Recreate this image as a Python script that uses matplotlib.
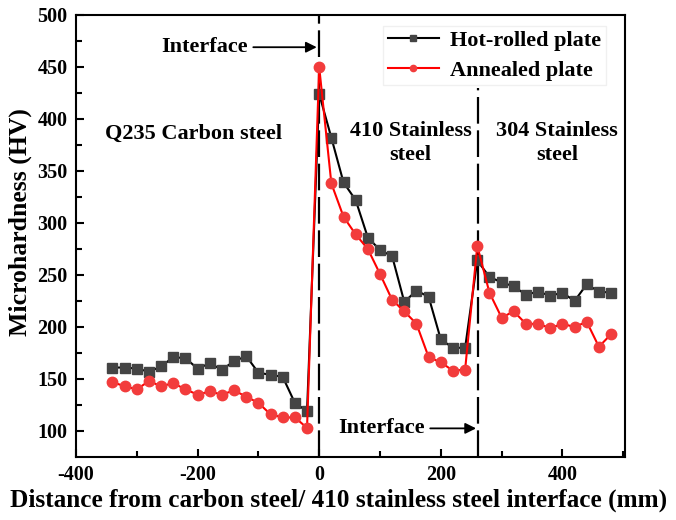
import matplotlib.pyplot as plt
import numpy as np

plt.rcParams['font.family'] = ['Liberation Serif', 'DejaVu Serif']
plt.rcParams['font.weight'] = 'bold'
plt.rcParams['axes.unicode_minus'] = False

# distance from carbon steel / 410 interface (mm)
distance = list(range(-340, 481, 20))

hot_rolled = [161, 161, 160, 157, 162, 171, 170, 160, 165, 159, 167, 172, 156, 154, 152, 127, 119,
              424, 382, 339, 322, 286, 274, 268, 224, 235, 229, 188, 180, 180,
              264, 248, 243, 239, 231, 234, 230, 233, 225, 241, 234, 233]
annealed = [147, 143, 140, 148, 143, 146, 140, 135, 138, 135, 139, 133, 127, 116, 113, 113, 103,
            450, 338, 306, 289, 275, 251, 226, 215, 203, 171, 166, 158, 159,
            278, 233, 209, 215, 203, 203, 199, 203, 200, 205, 181, 193]

interfaces = [0, 262]

fig = plt.figure(figsize=(6.76, 5.2), dpi=100)
ax = fig.add_axes([0.1124, 0.1212, 0.8122, 0.85])

ax.plot(distance, hot_rolled, color='black', lw=1.5, marker='s', ms=6.5,
        mfc='#444444', mec='#444444', label='Hot-rolled plate', zorder=3)
ax.plot(distance, annealed, color='red', lw=1.5, marker='o', ms=7.5,
        mfc='#f23c3c', mec='#f23c3c', label='Annealed plate', zorder=4)

# interface lines
ax.axvline(interfaces[0], color='black', lw=1.6, ls=(0, (12, 3)), zorder=2)
ax.plot([interfaces[1], interfaces[1]], [75, 430], color='black', lw=1.6,
        ls=(0, (12, 3)), zorder=2)

ax.set_xlim(-400, 503)
ax.set_ylim(75, 500)
ax.set_xticks(np.arange(-400, 401, 200))
ax.set_xticks(np.arange(-300, 501, 200), minor=True)
ax.set_yticks(np.arange(100, 501, 50))
ax.set_yticks(np.arange(125, 501, 50), minor=True)
ax.tick_params(which='both', direction='in', width=1.5, labelsize=14.5, pad=6)
ax.tick_params(which='major', length=6)
ax.tick_params(which='minor', length=4)
for s in ax.spines.values():
    s.set_linewidth(1.5)

ax.set_xlabel('Distance from carbon steel/ 410 stainless steel interface (mm)',
              fontsize=18.2, fontweight='bold', labelpad=2, x=0.478)
ax.set_ylabel('Microhardness (HV)', fontsize=18.5, fontweight='bold', labelpad=4, y=0.532)

# annotations
ax.annotate('Interface', xy=(interfaces[0] - 4, 469), xytext=(-260, 469),
            fontsize=16, fontweight='bold', va='center', ha='left',
            arrowprops=dict(arrowstyle='-|>', color='black', lw=1.3, shrinkA=2, shrinkB=0))
ax.annotate('Interface', xy=(interfaces[1] - 4, 102.5), xytext=(31, 102.5),
            fontsize=16, fontweight='bold', va='center', ha='left',
            arrowprops=dict(arrowstyle='-|>', color='black', lw=1.3, shrinkA=2, shrinkB=0))

ax.text(-207, 386, 'Q235 Carbon steel', fontsize=16, fontweight='bold', ha='center', va='center')
ax.text(150, 377, '410 Stainless\nsteel', fontsize=16, fontweight='bold', ha='center',
        va='center', linespacing=1.3)
ax.text(391, 377, '304 Stainless\nsteel', fontsize=16, fontweight='bold', ha='center',
        va='center', linespacing=1.3)

leg = ax.legend(loc='upper right', bbox_to_anchor=(0.985, 1.0), fontsize=16,
                frameon=True, fancybox=False, edgecolor='#f0f0f0', framealpha=1,
                handlelength=2.3, handletextpad=0.5, markerscale=0.6,
                borderpad=0.2, labelspacing=0.4)
for t in leg.get_texts():
    t.set_fontweight('bold')

fig.savefig('out.png', dpi=100)
